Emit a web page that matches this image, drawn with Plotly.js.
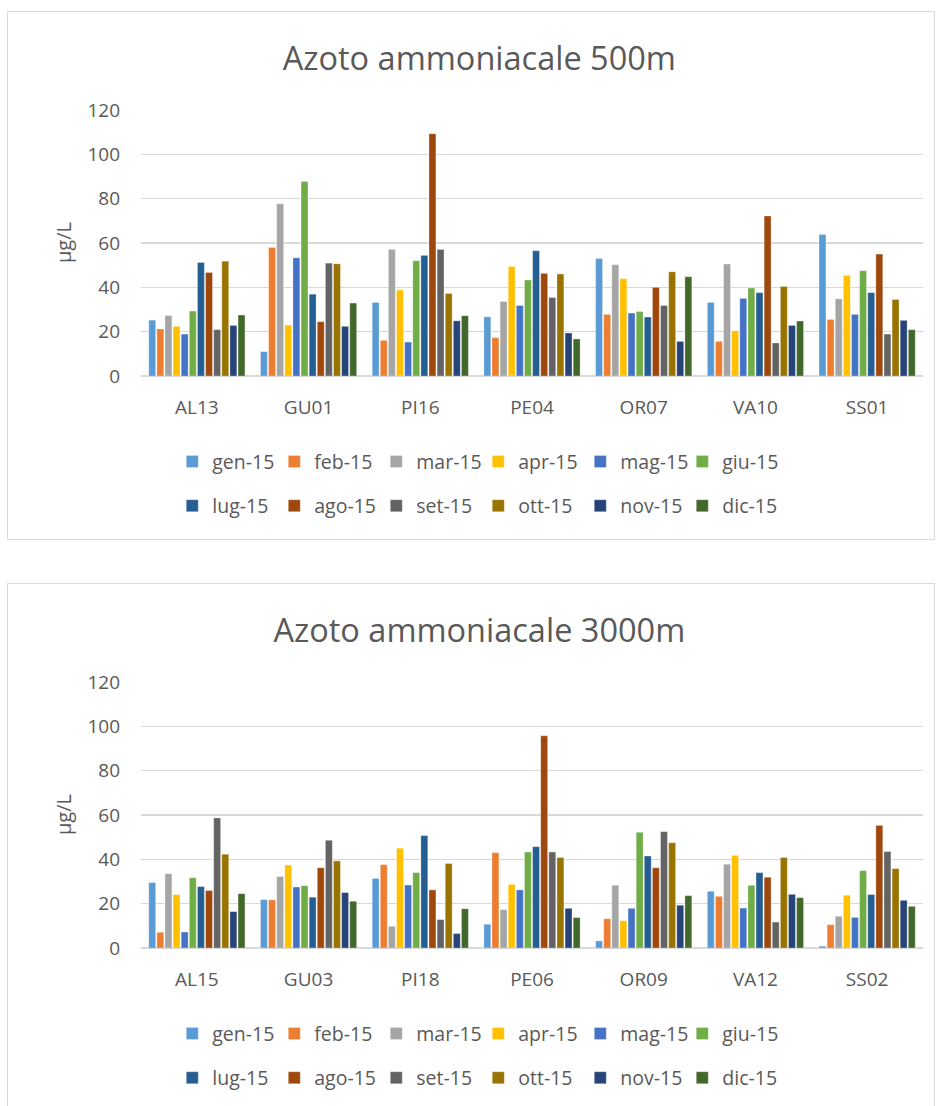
<!DOCTYPE html>
<html>
<head>
<meta charset="utf-8">
<script src="https://cdn.plot.ly/plotly-3.0.1.min.js"></script>
<style>
  html, body { margin:0; padding:0; background:#fff; overflow:hidden; }
  .box { position:absolute; left:7px; width:926px; height:527px; border:1.5px solid #d9d9d9; background:#fff; }
  #c1 { top:11px; }
  #c2 { top:583px; }
</style>
</head>
<body>
<div id="c1" class="box"></div>
<div id="c2" class="box"></div>
<script>
const months = ['gen-15','feb-15','mar-15','apr-15','mag-15','giu-15','lug-15','ago-15','set-15','ott-15','nov-15','dic-15'];
const colors = ['#5B9BD5','#ED7D31','#A5A5A5','#FFC000','#4472C4','#70AD47','#255E91','#9E480E','#636363','#997300','#264478','#43682B'];

const title1 = 'Azoto ammoniacale 500m';
const stations1 = ['AL13','GU01','PI16','PE04','OR07','VA10','SS01'];
// values per station, months gen..dic
const AL13 = [25.2,21.2,27.3,22.4,18.9,29.3,51.2,46.7,20.9,51.8,22.8,27.5];
const GU01 = [11.0,58.0,77.7,23.0,53.3,87.7,36.9,24.5,50.9,50.6,22.4,32.9];
const PI16 = [33.2,16.1,57.1,38.8,15.3,52.0,54.4,109.3,57.1,37.2,24.9,27.2];
const PE04 = [26.7,17.3,33.6,49.4,31.8,43.3,56.5,46.3,35.4,46.0,19.4,16.7];
const OR07 = [53.0,27.8,50.2,43.9,28.4,29.1,26.6,40.0,31.8,47.0,15.6,44.8];
const VA10 = [33.2,15.6,50.5,20.4,35.0,39.7,37.6,72.2,14.9,40.4,22.8,24.8];
const SS01 = [63.8,25.5,34.8,45.4,27.8,47.5,37.6,55.0,18.9,34.5,25.1,20.9];
const values1 = [AL13,GU01,PI16,PE04,OR07,VA10,SS01];

const title2 = 'Azoto ammoniacale 3000m';
const stations2 = ['AL15','GU03','PI18','PE06','OR09','VA12','SS02'];
const AL15 = [29.5,7.1,33.5,24.1,7.2,31.7,27.7,25.9,58.7,42.3,16.4,24.5];
const GU03 = [21.8,21.7,32.2,37.4,27.5,28.1,22.9,36.2,48.6,39.3,25.0,21.1];
const PI18 = [31.4,37.6,9.8,45.0,28.4,34.0,50.7,26.2,12.8,38.1,6.5,17.7];
const PE06 = [10.7,43.0,17.3,28.7,26.2,43.3,45.7,95.7,43.3,40.8,17.9,13.7];
const OR09 = [3.2,13.2,28.3,12.3,17.9,52.2,41.5,36.2,52.5,47.5,19.3,23.6];
const VA12 = [25.6,23.3,37.8,41.8,18.0,28.3,34.0,31.9,11.7,40.8,24.2,22.7];
const SS02 = [0.8,10.5,14.3,23.8,13.8,34.9,24.1,55.3,43.5,35.8,21.5,18.8];
const values2 = [AL15,GU03,PI18,PE06,OR09,VA12,SS02];

const yTitle = 'µg/L';
const yTicks = [0,20,40,60,80,100,120];

const FONT = '"Open Sans", "Noto Sans", sans-serif';
const TXT = '#595959';

function draw(id, title, stations, values) {
  const traces = months.map((m, i) => ({
    type: 'bar',
    name: m,
    x: stations,
    y: values.map(v => v[i]),
    marker: { color: colors[i], line: { color: 'rgba(255,255,255,0.6)', width: 0.5 } },
    legend: i < 6 ? 'legend' : 'legend2',
    hoverinfo: 'x+y+name'
  }));
  const legendCommon = {
    orientation: 'h', xanchor: 'left', yanchor: 'middle',
    font: { family: FONT, size: 19.5, color: TXT },
    entrywidth: 57, entrywidthmode: 'pixels',
    bgcolor: 'rgba(0,0,0,0)', itemclick: false, itemdoubleclick: false
  };
  const layout = {
    width: 926, height: 527,
    margin: { l: 133, r: 11, t: 98, b: 163, pad: 0 },
    paper_bgcolor: '#fff', plot_bgcolor: '#fff',
    font: { family: FONT, color: TXT },
    title: { text: title, font: { family: FONT, size: 32.5, color: TXT }, x: 0.509, xref: 'container', y: 0.912, yref: 'container', yanchor: 'middle', xanchor: 'center' },
    barmode: 'group', bargap: 0.128, bargroupgap: 0.15,
    showlegend: true,
    legend: Object.assign({}, legendCommon, { x: 0.04, y: -0.323 }),
    legend2: Object.assign({}, legendCommon, { x: 0.04, y: -0.489 }),
    xaxis: {
      type: 'category', showgrid: false, zeroline: false,
      showline: false, ticks: '',
      tickfont: { family: FONT, size: 19, color: TXT },
      ticklabelstandoff: 18
    },
    yaxis: {
      range: [0, 120], tickvals: yTicks, ticktext: yTicks.map(String),
      showgrid: true, gridcolor: '#d9d9d9', gridwidth: 1.4,
      zeroline: true, zerolinecolor: '#d9d9d9', zerolinewidth: 1.4,
      showline: false, ticks: '',
      tickfont: { family: FONT, size: 19, color: TXT },
      ticklabelstandoff: 20
    },
    annotations: [{
      text: yTitle, xref: 'paper', yref: 'paper', x: -0.0997, y: 0.5,
      xanchor: 'center', yanchor: 'middle', textangle: -90, showarrow: false,
      font: { family: FONT, size: 20, color: TXT }
    }]
  };
  Plotly.newPlot(id, traces, layout, { staticPlot: true, displayModeBar: false });
}
draw('c1', title1, stations1, values1);
draw('c2', title2, stations2, values2);
</script>
</body>
</html>
